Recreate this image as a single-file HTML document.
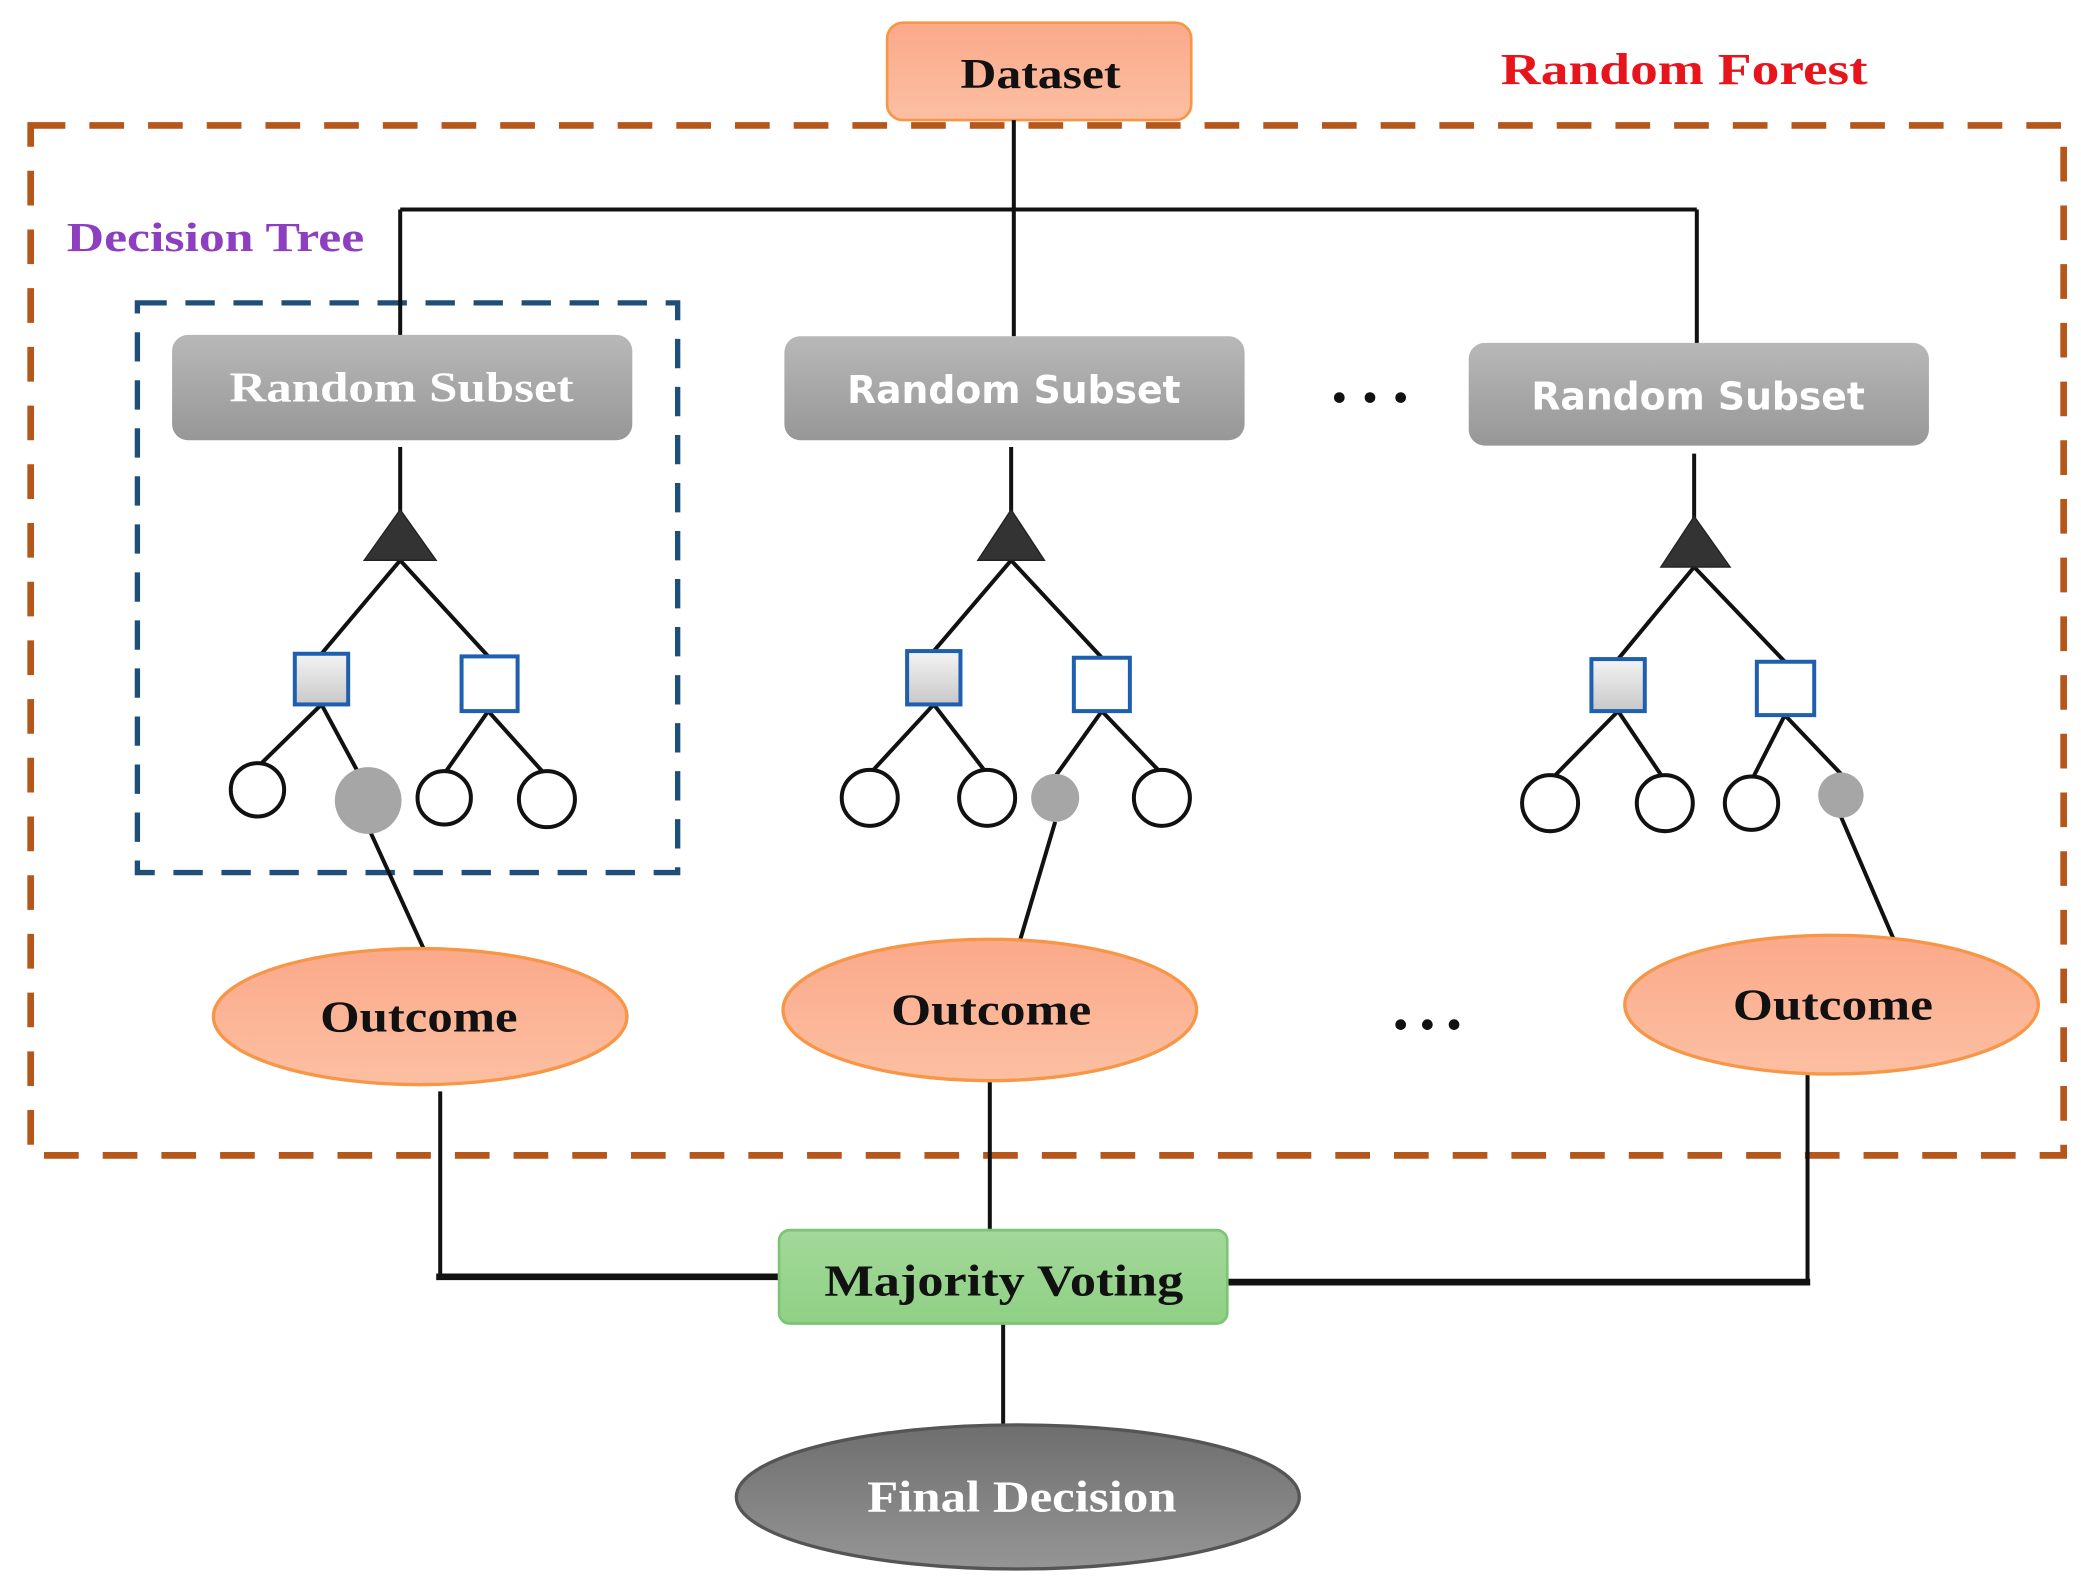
<!DOCTYPE html>
<html><head><meta charset="utf-8"><style>
html,body{margin:0;padding:0;background:#fff}
svg{display:block}
</style></head><body>
<svg width="2081" height="1593" viewBox="0 0 1560 1194" preserveAspectRatio="none" xmlns="http://www.w3.org/2000/svg">
<defs>
<linearGradient id="gr" x1="0" y1="0" x2="0" y2="1"><stop offset="0" stop-color="#b8b8b8"/><stop offset="1" stop-color="#979797"/></linearGradient>
<linearGradient id="or" x1="0" y1="0" x2="0" y2="1"><stop offset="0" stop-color="#fba98a"/><stop offset="1" stop-color="#fcbfa2"/></linearGradient>
<linearGradient id="sq" x1="0" y1="0" x2="0" y2="1"><stop offset="0" stop-color="#f4f4f4"/><stop offset="1" stop-color="#c8c8c8"/></linearGradient>
<linearGradient id="fd" x1="0" y1="0" x2="0" y2="1"><stop offset="0" stop-color="#6e6e6e"/><stop offset="1" stop-color="#959595"/></linearGradient>
<linearGradient id="gn" x1="0" y1="0" x2="0" y2="1"><stop offset="0" stop-color="#a3d89a"/><stop offset="1" stop-color="#8fd184"/></linearGradient>
</defs>
<g font-family="Liberation Serif, serif" font-weight="bold">
<rect x="23" y="94" width="1524" height="772" fill="none" stroke="#b5561a" stroke-width="5" stroke-dasharray="26,18"/>
<rect x="665" y="17" width="228" height="73" rx="12" fill="url(#or)" stroke="#f79646" stroke-width="2"/>
<text x="720" y="66" font-size="32" textLength="120" lengthAdjust="spacingAndGlyphs" fill="#111">Dataset</text>
<text x="1125" y="63" font-size="33" textLength="275" lengthAdjust="spacingAndGlyphs" fill="#e8141c">Random Forest</text>
<text x="50" y="188" font-size="31" textLength="223" lengthAdjust="spacingAndGlyphs" fill="#8e3fbf">Decision Tree</text>
<rect x="103" y="227" width="405" height="427" fill="none" stroke="#1f4e79" stroke-width="4" stroke-dasharray="22,14"/>
<g stroke="#111" stroke-width="3" fill="none">
<path d="M760 90V252M300 157H1272M300 157V252M1272 157V258"/>
<path d="M300 335V385M758 335V385M1270 340V390"/>
<path d="M300 420L241 490M300 420L366 492M241 528L193 575M241 528L268 578M366 533L333 580M366 533L410 582M276 620L318 712"/>
<path d="M758 420L700 488M758 420L826 493M700 528L652 580M700 528L740 580M826 533L791 582M826 533L871 580M791 616L764 707"/>
<path d="M1270 425L1213 494M1270 425L1338 496M1213 533L1162 585M1213 533L1248 585M1338 536L1313 585M1338 536L1380 580M1380 612L1420 705"/>
<path d="M330 818V957M742 810V922M1355 805V962M752 992V1070"/>
</g>
<path d="M327 957H584M920 961H1357" stroke="#111" stroke-width="5"/>
<rect x="129" y="251" width="345" height="79" rx="12" fill="url(#gr)"/>
<text x="172" y="301" font-size="32" textLength="258" lengthAdjust="spacingAndGlyphs" fill="#fff">Random Subset</text>
<rect x="588" y="252" width="345" height="78" rx="12" fill="url(#gr)"/>
<text x="635" y="302" font-size="29" textLength="250" lengthAdjust="spacingAndGlyphs" fill="#fff" font-family="DejaVu Sans, sans-serif">Random Subset</text>
<rect x="1101" y="257" width="345" height="77" rx="12" fill="url(#gr)"/>
<text x="1148" y="307" font-size="29" textLength="250" lengthAdjust="spacingAndGlyphs" fill="#fff" font-family="DejaVu Sans, sans-serif">Random Subset</text>
<g fill="#111"><circle cx="1004" cy="298" r="4"/><circle cx="1027" cy="298" r="4"/><circle cx="1050" cy="298" r="4"/>
<circle cx="1050" cy="768" r="4"/><circle cx="1070" cy="768" r="4"/><circle cx="1090" cy="768" r="4"/></g>
<g fill="#333" stroke="#222" stroke-width="1">
<polygon points="300,382 273,420 327,420"/><polygon points="758,382 733,420 783,420"/><polygon points="1270,387 1245,425 1297,425"/>
</g>
<g stroke="#1f5fb0" stroke-width="3">
<rect x="221" y="490" width="40" height="38" fill="url(#sq)"/><rect x="346" y="492" width="42" height="41" fill="#fff"/>
<rect x="680" y="488" width="40" height="40" fill="url(#sq)"/><rect x="805" y="493" width="42" height="40" fill="#fff"/>
<rect x="1193" y="494" width="40" height="39" fill="url(#sq)"/><rect x="1317" y="496" width="43" height="40" fill="#fff"/>
</g>
<g fill="#fff" stroke="#111" stroke-width="3">
<circle cx="193" cy="592" r="20"/><circle cx="333" cy="598" r="20"/><circle cx="410" cy="599" r="21"/>
<circle cx="652" cy="598" r="21"/><circle cx="740" cy="598" r="21"/><circle cx="871" cy="598" r="21"/>
<circle cx="1162" cy="602" r="21"/><circle cx="1248" cy="602" r="21"/><circle cx="1313" cy="602" r="20"/>
</g>
<g fill="#a6a6a6"><circle cx="276" cy="600" r="25"/><circle cx="791" cy="598" r="18"/><circle cx="1380" cy="596" r="17"/></g>
<g fill="url(#or)" stroke="#f79646" stroke-width="2.5">
<ellipse cx="315" cy="762" rx="155" ry="51"/><ellipse cx="742" cy="757" rx="155" ry="53"/><ellipse cx="1373" cy="753" rx="155" ry="52"/>
</g>
<g font-size="33" fill="#111">
<text x="240" y="773" textLength="148" lengthAdjust="spacingAndGlyphs">Outcome</text>
<text x="668" y="768" textLength="150" lengthAdjust="spacingAndGlyphs">Outcome</text>
<text x="1299" y="764" textLength="150" lengthAdjust="spacingAndGlyphs">Outcome</text>
</g>
<rect x="584" y="922" width="336" height="70" rx="8" fill="url(#gn)" stroke="#7cc576" stroke-width="2"/>
<text x="618" y="971" font-size="33" textLength="269" lengthAdjust="spacingAndGlyphs" fill="#111">Majority Voting</text>
<ellipse cx="763" cy="1122" rx="211" ry="54" fill="url(#fd)" stroke="#555" stroke-width="2.5"/>
<text x="650" y="1133" font-size="33" textLength="232" lengthAdjust="spacingAndGlyphs" fill="#fff">Final Decision</text>
</g>
</svg>
</body></html>
